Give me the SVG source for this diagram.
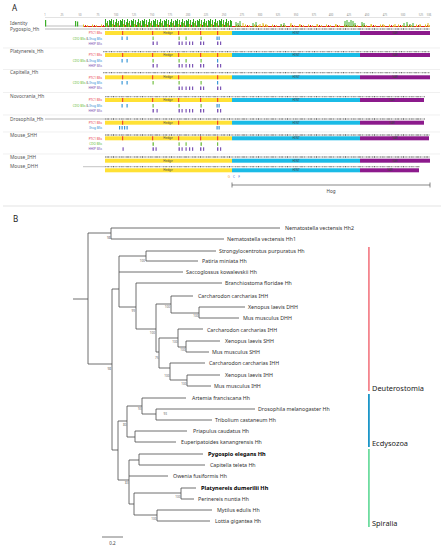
<svg xmlns="http://www.w3.org/2000/svg" width="444" height="550" viewBox="0 0 444 550">
<style>
text{font-family:"Noto Sans","Open Sans","DejaVu Sans",sans-serif}
.pl{font-size:8px;fill:#222}
.sn{font-size:4.8px;fill:#555}
.rl{font-size:2.6px;fill:#888;text-anchor:middle}
.bl{font-size:3.1px;text-anchor:end}
.dn{font-size:3px;text-anchor:middle;fill:#444}
.trk{stroke:#cfcfcf;stroke-width:1.3;fill:none}
.trkd{stroke:#6a6a6a;stroke-width:1.3;fill:none;stroke-dasharray:0.5 1.4 0.5 0.8 0.6 2.6 0.5 1.1 1 1.8 0.5 3.2}
.hd{fill:#ffe135}.hi{fill:#1bbbe6}.sa{fill:#8c1a8c}
.mr{fill:#ef4a2e}.mg{fill:#74c044}.mb{fill:#3a98d8}.mp{fill:#7c55b5}
.tx{font-size:5.3px;fill:#333}
.tb{font-size:5.6px;fill:#000;font-weight:bold}
.bs{font-size:3.1px;fill:#666;text-anchor:end}
.br{stroke:#4a4a4a;stroke-width:0.8;fill:none}
.cl{font-size:7.4px;fill:#222}
</style>
<defs>
<pattern id="pd" x="0" y="18" width="11" height="9" patternUnits="userSpaceOnUse">
<rect x="0" y="3" width="1" height="6" fill="#3cb028"/><rect x="1" y="1" width="1" height="8" fill="#2fa820"/><rect x="2" y="6" width="1" height="3" fill="#c8c81e"/><rect x="3" y="2" width="1" height="7" fill="#3cb028"/><rect x="4" y="7" width="1" height="2" fill="#d8281e"/><rect x="5" y="4" width="1" height="5" fill="#46b82c"/><rect x="6" y="1" width="1" height="8" fill="#2fa820"/><rect x="7" y="5" width="1" height="4" fill="#9cc028"/><rect x="8" y="3" width="1" height="6" fill="#3cb028"/><rect x="9" y="7.5" width="1" height="1.5" fill="#d8281e"/><rect x="10" y="2" width="1" height="7" fill="#2fa820"/>
</pattern>
<pattern id="ps" x="0" y="18" width="9" height="9" patternUnits="userSpaceOnUse">
<rect x="0" y="8" width="9" height="1" fill="#d8281e"/><rect x="2" y="6.5" width="1" height="2.5" fill="#e0c020"/><rect x="4" y="7" width="1" height="2" fill="#d8281e"/><rect x="6" y="7.2" width="1" height="1.8" fill="#e0b020"/>
</pattern>
</defs>
<rect width="444" height="550" fill="#fff"/>

<g id="panel-A-label"><text class="pl" x="12" y="11">A</text></g>

<g id="ruler">
<line x1="45" y1="17.5" x2="430" y2="17.5" stroke="#d0d0d0" stroke-width="0.6"/>
<text class="rl" x="45" y="16">1</text><text class="rl" x="62" y="16">25</text><text class="rl" x="80" y="16">50</text><text class="rl" x="98" y="16">75</text><text class="rl" x="116" y="16">100</text><text class="rl" x="134" y="16">125</text><text class="rl" x="152" y="16">150</text><text class="rl" x="170" y="16">175</text><text class="rl" x="188" y="16">200</text><text class="rl" x="206" y="16">225</text><text class="rl" x="224" y="16">250</text><text class="rl" x="242" y="16">275</text><text class="rl" x="260" y="16">300</text><text class="rl" x="278" y="16">325</text><text class="rl" x="296" y="16">350</text><text class="rl" x="314" y="16">375</text><text class="rl" x="331" y="16">400</text><text class="rl" x="349" y="16">425</text><text class="rl" x="367" y="16">450</text><text class="rl" x="385" y="16">475</text><text class="rl" x="403" y="16">500</text><text class="rl" x="421" y="16">525</text><text class="rl" x="429" y="16">536</text>
</g>

<g id="identity">
<text class="sn" x="10" y="24.5">Identity</text>
<rect x="45" y="25.5" width="38" height="1" fill="#bdbdbd"/>
<rect x="45" y="20" width="1.2" height="6.5" fill="#3cb028"/>
<rect x="75" y="21" width="1.2" height="5.5" fill="#3cb028"/><rect x="77" y="21.5" width="1.2" height="5" fill="#3cb028"/>
<rect x="83" y="18" width="22" height="9" fill="url(#ps)"/>
<rect x="105" y="18" width="127" height="9" fill="url(#pd)"/>
<rect x="232" y="18" width="198" height="9" fill="url(#ps)"/>
<path d="M236,27v-5M238,27v-4M240,27v-6M253,27v-4M256,27v-5M281,27v-3M284,27v-4M345,27v-6M347,27v-7M349,27v-5M351,27v-7M353,27v-6M355,27v-4M362,27v-5M364,27v-4M404,27v-4M407,27v-5M410,27v-3M413,27v-4" stroke="#3cb028" stroke-width="1"/>
<path d="M243,27v-4M260,27v-3M263,27v-4M266,27v-3M291,27v-4M300,27v-3M317,27v-3M336,27v-3M371,27v-3M383,27v-3M395,27v-3M420,27v-3M428,27v-4" stroke="#e0c020" stroke-width="1"/>
</g>

<g id="separators" stroke="#e6e6e6" stroke-width="0.6">
<line x1="3" y1="48" x2="440" y2="48"/><line x1="3" y1="69.5" x2="440" y2="69.5"/><line x1="3" y1="92.5" x2="440" y2="92.5"/><line x1="3" y1="115" x2="440" y2="115"/><line x1="3" y1="132" x2="440" y2="132"/><line x1="3" y1="154" x2="440" y2="154"/>
</g>

<g id="row-pygospio">
<text class="sn" x="10" y="31">Pygospio_Hh</text>
<line class="trk" x1="45" y1="29" x2="430" y2="29"/><line class="trkd" x1="105" y1="29" x2="430" y2="29"/>
<rect class="hd" x="105" y="31" width="127" height="4"/><rect class="hi" x="232" y="31" width="128" height="4"/><rect class="sa" x="360" y="31" width="70" height="4"/>
<text class="dn" x="168" y="34.1">Hedge</text><text class="dn" x="296" y="34.1">HINT</text><text class="dn" x="395" y="34.1" fill="#e8c8e8">SAR</text>
<text class="bl" x="102" y="34.2" fill="#e8323c">PTC1 BSs</text>
<text class="bl" x="102" y="39.6"><tspan fill="#5cb82e">CDO BSs</tspan><tspan fill="#777"> &amp; </tspan><tspan fill="#2a8ad4">Ihog BSs</tspan></text>
<text class="bl" x="102" y="44.6" fill="#7a4fb0">HHIP BSs</text>
<g><rect class="mr" x="122" y="31" width="1.2" height="4"/><rect class="mr" x="152" y="31" width="1.2" height="4"/><rect class="mr" x="178" y="31" width="1.2" height="4"/><rect class="mr" x="200" y="31" width="1.2" height="4"/><rect class="mr" x="217" y="31" width="1.2" height="4"/></g>
<g><rect class="mb" x="121.5" y="36.5" width="1.2" height="3.5"/><rect class="mb" x="126.5" y="36.5" width="1.2" height="3.5"/><rect class="mg" x="152.5" y="36.5" width="1.2" height="3.5"/><rect class="mg" x="178.5" y="36.5" width="1.2" height="3.5"/><rect class="mg" x="185.5" y="36.5" width="1.2" height="3.5"/><rect class="mg" x="200.5" y="36.5" width="1.2" height="3.5"/><rect class="mb" x="216.5" y="36.5" width="1.2" height="3.5"/><rect class="mb" x="218.5" y="36.5" width="1.2" height="3.5"/></g>
<g class="mp"><rect x="152.5" y="41.5" width="1.4" height="3.5"/><rect x="156.5" y="41.5" width="1.2" height="3.5"/><rect x="178.5" y="41.5" width="1.4" height="3.5"/><rect x="181.5" y="41.5" width="1.2" height="3.5"/><rect x="185.5" y="41.5" width="1.2" height="3.5"/><rect x="189" y="41.5" width="1.2" height="3.5"/><rect x="192" y="41.5" width="1.2" height="3.5"/><rect x="200" y="41.5" width="1.4" height="3.5"/><rect x="203" y="41.5" width="1.2" height="3.5"/><rect x="217" y="41.5" width="1.4" height="3.5"/><rect x="220" y="41.5" width="1.2" height="3.5"/></g>
</g>

<g id="row-platynereis">
<text class="sn" x="10" y="53.4">Platynereis_Hh</text>
<line class="trk" x1="103" y1="51.7" x2="430" y2="51.7"/><line class="trkd" x1="103" y1="51.7" x2="430" y2="51.7"/>
<rect class="hd" x="105" y="53" width="127" height="4"/><rect class="hi" x="232" y="53" width="128" height="4"/><rect class="sa" x="360" y="53" width="70" height="4"/>
<text class="dn" x="168" y="56.1">Hedge</text><text class="dn" x="296" y="56.1">HINT</text><text class="dn" x="395" y="56.1" fill="#e8c8e8">SAR</text>
<text class="bl" x="102" y="56.2" fill="#e8323c">PTC1 BSs</text>
<text class="bl" x="102" y="61.8"><tspan fill="#5cb82e">CDO BSs</tspan><tspan fill="#777"> &amp; </tspan><tspan fill="#2a8ad4">Ihog BSs</tspan></text>
<text class="bl" x="102" y="67.2" fill="#7a4fb0">HHIP BSs</text>
<g><rect class="mr" x="122" y="53" width="1.2" height="4"/><rect class="mr" x="152" y="53" width="1.2" height="4"/><rect class="mr" x="178" y="53" width="1.2" height="4"/><rect class="mr" x="200" y="53" width="1.2" height="4"/><rect class="mr" x="217" y="53" width="1.2" height="4"/></g>
<g><rect class="mb" x="121.5" y="59" width="1.2" height="3.5"/><rect class="mb" x="126.5" y="59" width="1.2" height="3.5"/><rect class="mg" x="152.5" y="59" width="1.2" height="3.5"/><rect class="mg" x="178.5" y="59" width="1.2" height="3.5"/><rect class="mg" x="185.5" y="59" width="1.2" height="3.5"/><rect class="mg" x="200.5" y="59" width="1.2" height="3.5"/><rect class="mb" x="217" y="59" width="1.2" height="3.5"/></g>
<g class="mp"><rect x="152.5" y="64" width="1.4" height="3.5"/><rect x="156.5" y="64" width="1.2" height="3.5"/><rect x="178.5" y="64" width="1.4" height="3.5"/><rect x="181.5" y="64" width="1.2" height="3.5"/><rect x="185.5" y="64" width="1.2" height="3.5"/><rect x="189" y="64" width="1.2" height="3.5"/><rect x="192" y="64" width="1.2" height="3.5"/><rect x="200" y="64" width="1.4" height="3.5"/><rect x="203" y="64" width="1.2" height="3.5"/><rect x="217" y="64" width="1.4" height="3.5"/><rect x="220" y="64" width="1.2" height="3.5"/></g>
</g>

<g id="row-capitella">
<text class="sn" x="10" y="74.4">Capitella_Hh</text>
<line class="trk" x1="103" y1="72.7" x2="430" y2="72.7"/><line class="trkd" x1="103" y1="72.7" x2="430" y2="72.7"/>
<rect class="hd" x="105" y="75.3" width="127" height="4"/><rect class="hi" x="232" y="75.3" width="128" height="4"/><rect class="sa" x="360" y="75.3" width="70" height="4"/>
<text class="dn" x="168" y="78.4">Hedge</text><text class="dn" x="296" y="78.4">HINT</text><text class="dn" x="395" y="78.4" fill="#e8c8e8">SAR</text>
<text class="bl" x="102" y="78.5" fill="#e8323c">PTC1 BSs</text>
<text class="bl" x="102" y="83.8"><tspan fill="#5cb82e">CDO BSs</tspan><tspan fill="#777"> &amp; </tspan><tspan fill="#2a8ad4">Ihog BSs</tspan></text>
<text class="bl" x="102" y="89.4" fill="#7a4fb0">HHIP BSs</text>
<g><rect class="mr" x="122" y="75.3" width="1.2" height="4"/><rect class="mr" x="152" y="75.3" width="1.2" height="4"/><rect class="mr" x="178" y="75.3" width="1.2" height="4"/><rect class="mr" x="217" y="75.3" width="1.2" height="4"/></g>
<g><rect class="mb" x="121.5" y="81" width="1.2" height="3.5"/><rect class="mb" x="126.5" y="81" width="1.2" height="3.5"/><rect class="mg" x="152.5" y="81" width="1.2" height="3.5"/><rect class="mg" x="178.5" y="81" width="1.2" height="3.5"/><rect class="mg" x="200.5" y="81" width="1.2" height="3.5"/><rect class="mb" x="217" y="81" width="1.2" height="3.5"/></g>
<g class="mp"><rect x="178.5" y="86.5" width="1.4" height="3.5"/><rect x="181.5" y="86.5" width="1.2" height="3.5"/><rect x="185.5" y="86.5" width="1.2" height="3.5"/><rect x="189" y="86.5" width="1.2" height="3.5"/><rect x="192" y="86.5" width="1.2" height="3.5"/><rect x="200" y="86.5" width="1.4" height="3.5"/><rect x="203" y="86.5" width="1.2" height="3.5"/><rect x="217" y="86.5" width="1.4" height="3.5"/><rect x="220" y="86.5" width="1.2" height="3.5"/></g>
</g>

<g id="row-novocrania">
<text class="sn" x="10" y="98.4">Novocrania_Hh</text>
<line class="trk" x1="105" y1="96.7" x2="425" y2="96.7"/><line class="trkd" x1="105" y1="96.7" x2="425" y2="96.7"/>
<rect class="hd" x="105" y="98" width="127" height="4"/><rect class="hi" x="232" y="98" width="128" height="4"/><rect class="sa" x="360" y="98" width="64" height="4"/>
<text class="dn" x="168" y="101.1">Hedge</text><text class="dn" x="296" y="101.1">HINT</text><text class="dn" x="392" y="101.1" fill="#e8c8e8">SAR</text>
<text class="bl" x="102" y="101.2" fill="#e8323c">PTC1 BSs</text>
<text class="bl" x="102" y="106.8"><tspan fill="#5cb82e">CDO BSs</tspan><tspan fill="#777"> &amp; </tspan><tspan fill="#2a8ad4">Ihog BSs</tspan></text>
<text class="bl" x="102" y="111.8" fill="#7a4fb0">HHIP BSs</text>
<g><rect class="mr" x="122" y="98" width="1.2" height="4"/><rect class="mr" x="152" y="98" width="1.2" height="4"/><rect class="mr" x="178" y="98" width="1.2" height="4"/><rect class="mr" x="200" y="98" width="1.2" height="4"/><rect class="mr" x="217" y="98" width="1.2" height="4"/></g>
<g><rect class="mb" x="121.5" y="104" width="1.2" height="3.5"/><rect class="mb" x="126.5" y="104" width="1.2" height="3.5"/><rect class="mg" x="152.5" y="104" width="1.2" height="3.5"/><rect class="mg" x="178.5" y="104" width="1.2" height="3.5"/><rect class="mg" x="200.5" y="104" width="1.2" height="3.5"/><rect class="mb" x="216.5" y="104" width="1.2" height="3.5"/><rect class="mb" x="218.5" y="104" width="1.2" height="3.5"/></g>
<g class="mp"><rect x="152.5" y="109" width="1.4" height="3.5"/><rect x="156.5" y="109" width="1.2" height="3.5"/><rect x="178.5" y="109" width="1.4" height="3.5"/><rect x="181.5" y="109" width="1.2" height="3.5"/><rect x="185.5" y="109" width="1.2" height="3.5"/><rect x="189" y="109" width="1.2" height="3.5"/><rect x="192" y="109" width="1.2" height="3.5"/><rect x="200" y="109" width="1.4" height="3.5"/><rect x="203" y="109" width="1.2" height="3.5"/><rect x="217" y="109" width="1.4" height="3.5"/><rect x="220" y="109" width="1.2" height="3.5"/></g>
</g>

<g id="row-drosophila">
<text class="sn" x="10" y="120.7">Drosophila_Hh</text>
<line class="trk" x1="45" y1="119" x2="425" y2="119"/><line class="trkd" x1="105" y1="119" x2="425" y2="119"/>
<rect class="hd" x="105" y="120.7" width="127" height="4"/><rect class="hi" x="232" y="120.7" width="128" height="4"/><rect class="sa" x="360" y="120.7" width="64" height="4"/>
<text class="dn" x="168" y="123.8">Hedge</text><text class="dn" x="296" y="123.8">HINT</text><text class="dn" x="392" y="123.8" fill="#e8c8e8">SAR</text>
<text class="bl" x="102" y="123.9" fill="#e8323c">PTC1 BSs</text>
<text class="bl" x="102" y="128.8" fill="#2a8ad4">Ihog BSs</text>
<g><rect class="mr" x="122" y="120.7" width="1.2" height="4"/><rect class="mr" x="178" y="120.7" width="1.2" height="4"/><rect class="mr" x="217" y="120.7" width="1.2" height="4"/></g>
<g class="mb"><rect x="119" y="126" width="1.2" height="3.5"/><rect x="121.5" y="126" width="1.2" height="3.5"/><rect x="124" y="126" width="1.2" height="3.5"/><rect x="126.5" y="126" width="1.2" height="3.5"/><rect x="216.5" y="126" width="1.2" height="3.5"/><rect x="218.5" y="126" width="1.2" height="3.5"/></g>
</g>

<g id="row-mouse-shh">
<text class="sn" x="10" y="136.7">Mouse_SHH</text>
<line class="trk" x1="105" y1="135" x2="430" y2="135"/><line class="trkd" x1="105" y1="135" x2="430" y2="135"/>
<rect class="hd" x="105" y="136.3" width="127" height="4"/><rect class="hi" x="232" y="136.3" width="128" height="4"/><rect class="sa" x="360" y="136.3" width="69" height="4"/>
<text class="dn" x="168" y="139.4">Hedge</text><text class="dn" x="296" y="139.4">HINT</text><text class="dn" x="395" y="139.4" fill="#e8c8e8">SAR</text>
<text class="bl" x="102" y="139.5" fill="#e8323c">PTC1 BSs</text>
<text class="bl" x="102" y="145.1" fill="#5cb82e">CDO BSs</text>
<text class="bl" x="102" y="150.1" fill="#7a4fb0">HHIP BSs</text>
<g><rect class="mr" x="122" y="136.3" width="1.2" height="4"/><rect class="mr" x="152" y="136.3" width="1.2" height="4"/><rect class="mr" x="178" y="136.3" width="1.2" height="4"/><rect class="mr" x="200" y="136.3" width="1.2" height="4"/><rect class="mr" x="217" y="136.3" width="1.2" height="4"/></g>
<g class="mg"><rect x="152.5" y="142.3" width="1.4" height="3.5"/><rect x="178.5" y="142.3" width="1.2" height="3.5"/><rect x="185.5" y="142.3" width="1.2" height="3.5"/><rect x="200.5" y="142.3" width="1.4" height="3.5"/><rect x="217" y="142.3" width="1.2" height="3.5"/></g>
<g class="mp"><rect x="122.5" y="147.3" width="1.2" height="3.5"/><rect x="152.5" y="147.3" width="1.4" height="3.5"/><rect x="155.5" y="147.3" width="1.2" height="3.5"/><rect x="178.5" y="147.3" width="1.4" height="3.5"/><rect x="181.5" y="147.3" width="1.2" height="3.5"/><rect x="185.5" y="147.3" width="1.2" height="3.5"/><rect x="189" y="147.3" width="1.2" height="3.5"/><rect x="192" y="147.3" width="1.2" height="3.5"/><rect x="200" y="147.3" width="1.4" height="3.5"/><rect x="203" y="147.3" width="1.2" height="3.5"/><rect x="217" y="147.3" width="1.4" height="3.5"/><rect x="220" y="147.3" width="1.2" height="3.5"/></g>
</g>

<g id="row-mouse-ihh">
<text class="sn" x="10" y="159">Mouse_IHH</text>
<line class="trk" x1="105" y1="157" x2="430" y2="157"/><line class="trkd" x1="105" y1="157" x2="430" y2="157"/>
<rect class="hd" x="105" y="158.7" width="127" height="4"/><rect class="hi" x="232" y="158.7" width="128" height="4"/><rect class="sa" x="360" y="158.7" width="70" height="4"/>
<text class="dn" x="168" y="161.8">Hedge</text><text class="dn" x="296" y="161.8">HINT</text><text class="dn" x="395" y="161.8" fill="#e8c8e8">SAR</text>
</g>

<g id="row-mouse-dhh">
<text class="sn" x="10" y="168.4">Mouse_DHH</text>
<line class="trk" x1="83" y1="166.7" x2="420" y2="166.7"/><line class="trkd" x1="105" y1="166.7" x2="420" y2="166.7"/>
<rect class="hd" x="105" y="168.3" width="127" height="4"/><rect class="hi" x="232" y="168.3" width="128" height="4"/><rect class="sa" x="360" y="168.3" width="59" height="4"/>
<text class="dn" x="168" y="171.4">Hedge</text><text class="dn" x="296" y="171.4">HINT</text><text class="dn" x="390" y="171.4" fill="#e8c8e8">SAR</text>
</g>

<g id="hog">
<text x="229" y="177.5" style="font-size:3.2px;fill:#f0a040;text-anchor:middle">G</text>
<text x="234" y="177.5" style="font-size:3.2px;fill:#4a6ad8;text-anchor:middle">C</text>
<text x="239" y="177.5" style="font-size:3.2px;fill:#4a6ad8;text-anchor:middle">F</text>
<path d="M232,185H430M232,182.5V187.5M430,182.5V187.5" stroke="#555" stroke-width="0.7" fill="none"/>
<text x="331" y="193" style="font-size:4.6px;fill:#444;text-anchor:middle">Hog</text>
</g>

<line x1="3" y1="206" x2="441" y2="206" stroke="#dcdcdc" stroke-width="0.8"/>

<g id="panel-B-label"><text class="pl" x="13" y="222">B</text></g>

<g id="connectors" class="br">
<path d="M73,299H88M88,233V364M88,233H111M111,228V239M111,228H280M111,239H224"/>
<path d="M88,364H112M112,289V450"/>
<path d="M112,289H119M119,256V307M119,256H146M146,251V261M146,251H216M146,261H198M119,272H183"/>
<path d="M119,307H136M136,283V329M136,283H222M136,329H156M156,304V352"/>
<path d="M156,304H171M171,296V313M171,296H193M171,313H199M199,307V318M199,307H245M199,318H239"/>
<path d="M156,352H159M159,338V368M159,338H178M178,329V347M178,329H203M178,347H186M186,341V352M186,341H220M186,352H209"/>
<path d="M159,368H170M170,363V380M170,363H205M170,380H187M187,375V386M187,375H220M187,386H211"/>
<path d="M112,450H118M118,421V480M118,421H127M127,406V437M127,406H142M142,398V414M142,398H186M142,414H156M156,409V420M156,409H255M156,420H212M127,437H135M135,431V442M135,431H187M135,442H176"/>
<path d="M118,480H129M129,460V504M129,460H139M139,454V465M139,454H203M139,465H205M129,476H168M129,504H134M134,493V515M134,493H181M181,488V499M181,488H196M181,499H194M134,515H157M157,510V521M157,510H212M157,521H210"/>
</g>

<g id="support-values">
<text class="bs" x="110.5" y="238.5">98</text>
<text class="bs" x="111" y="369.5">98</text>
<text class="bs" x="145" y="261.5">100</text>
<text class="bs" x="135" y="312">99</text>
<text class="bs" x="155" y="333.5">100</text>
<text class="bs" x="170" y="308">100</text>
<text class="bs" x="198.5" y="317">100</text>
<text class="bs" x="158.5" y="359">75</text>
<text class="bs" x="177.5" y="343">100</text>
<text class="bs" x="185.5" y="351">100</text>
<text class="bs" x="169.5" y="377">100</text>
<text class="bs" x="186.5" y="385">100</text>
<text class="bs" x="126.5" y="426">80</text>
<text class="bs" x="141.5" y="410">93</text>
<text class="bs" x="167" y="415">93</text>
<text class="bs" x="128.5" y="484">83</text>
<text class="bs" x="180.5" y="498">100</text>
<text class="bs" x="156.5" y="520">100</text>
</g>

<g id="taxa">
<g id="t-nve-hh2"><text class="tx" x="285" y="229.9">Nematostella vectensis Hh2</text></g>
<g id="t-nve-hh1"><text class="tx" x="227" y="240.9">Nematostella vectensis Hh1</text></g>
<g id="t-spu"><text class="tx" x="219" y="252.9">Strongylocentrotus purpuratus Hh</text></g>
<g id="t-pmi"><text class="tx" x="202" y="262.9">Patiria miniata Hh</text></g>
<g id="t-sko"><text class="tx" x="186" y="273.9">Saccoglossus kowalevskii Hh</text></g>
<g id="t-bfl"><text class="tx" x="225" y="284.9">Branchiostoma floridae Hh</text></g>
<g id="t-cca1"><text class="tx" x="198" y="297.9">Carcharodon carcharias IHH</text></g>
<g id="t-xla-dhh"><text class="tx" x="248" y="308.9">Xenopus laevis DHH</text></g>
<g id="t-mmu-dhh"><text class="tx" x="243" y="319.9">Mus musculus DHH</text></g>
<g id="t-cca2"><text class="tx" x="207" y="331.9">Carcharodon carcharias IHH</text></g>
<g id="t-xla-shh"><text class="tx" x="225" y="342.9">Xenopus laevis SHH</text></g>
<g id="t-mmu-shh"><text class="tx" x="212" y="353.9">Mus musculus SHH</text></g>
<g id="t-cca3"><text class="tx" x="209" y="364.9">Carcharodon carcharias IHH</text></g>
<g id="t-xla-ihh"><text class="tx" x="225" y="376.9">Xenopus laevis IHH</text></g>
<g id="t-mmu-ihh"><text class="tx" x="214" y="387.9">Mus musculus IHH</text></g>
<g id="t-afr"><text class="tx" x="192" y="399.9">Artemia franciscana Hh</text></g>
<g id="t-dme"><text class="tx" x="258" y="410.9">Drosophila melanogaster Hh</text></g>
<g id="t-tca"><text class="tx" x="215" y="421.9">Tribolium castaneum Hh</text></g>
<g id="t-pca"><text class="tx" x="193" y="432.9">Priapulus caudatus Hh</text></g>
<g id="t-eka"><text class="tx" x="181" y="443.9">Euperipatoides kanangrensis Hh</text></g>
<g id="t-pel"><text class="tb" x="208" y="456.1">Pygospio elegans Hh</text></g>
<g id="t-cte"><text class="tx" x="210" y="466.9">Capitella teleta Hh</text></g>
<g id="t-ofu"><text class="tx" x="173" y="477.9">Owenia fusiformis Hh</text></g>
<g id="t-pdu"><text class="tb" x="201" y="490.1">Platynereis dumerilii Hh</text></g>
<g id="t-pnu"><text class="tx" x="198" y="500.9">Perinereis nuntia Hh</text></g>
<g id="t-med"><text class="tx" x="217" y="511.9">Mytilus edulis Hh</text></g>
<g id="t-lgi"><text class="tx" x="215" y="522.9">Lottia gigantea Hh</text></g>
</g>

<g id="scale-bar">
<path d="M102,537H123" stroke="#555" stroke-width="0.8"/>
<text x="112.5" y="545" style="font-size:4.6px;fill:#444;text-anchor:middle">0.2</text>
</g>

<g id="clades">
<g id="c-deut"><rect x="368" y="247" width="1.8" height="144" fill="#f4858e"/><text class="cl" x="372" y="390.5">Deuterostomia</text></g>
<g id="c-ecd"><rect x="368" y="394" width="1.8" height="53" fill="#1c96c8"/><text class="cl" x="372" y="445.5">Ecdysozoa</text></g>
<g id="c-spi"><rect x="368" y="449" width="1.8" height="78" fill="#6fdca0"/><text class="cl" x="372" y="525.5">Spiralia</text></g>
</g>
</svg>
